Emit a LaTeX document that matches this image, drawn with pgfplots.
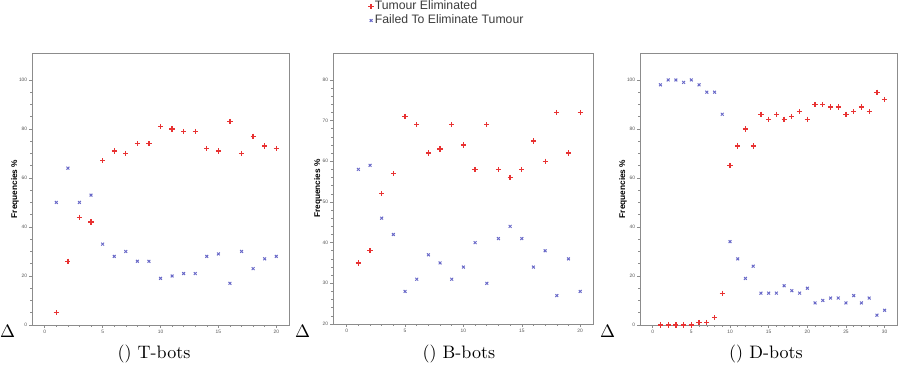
\documentclass[border=0pt]{standalone}
\usepackage{pgfplots}
\pgfplotsset{compat=1.18}
\usepackage{fontspec}
\newfontfamily\arial{Liberation Sans}
\definecolor{tred}{RGB}{232,50,50}
\definecolor{tblue}{RGB}{105,105,200}
\definecolor{axgray}{RGB}{140,140,140}
\definecolor{lblgray}{RGB}{85,85,85}
\definecolor{leggray}{RGB}{60,60,60}

\pgfplotsset{
  botstyle/.style={
    scale only axis, anchor=south west,
    axis line style={axgray, line width=0.5pt},
    tick style={axgray, line width=0.3pt},
    tick align=outside,
    xtick pos=left, ytick pos=left,
    major tick length=1.7pt, minor tick length=1pt,
    minor x tick num=4,
    ticklabel style={font=\arial\fontsize{2.7}{3}\selectfont, text=lblgray, inner sep=0.8pt},
    /pgf/number format/assume math mode=true,
    ylabel={Frequencies \%},
    ylabel style={font=\arial\bfseries\fontsize{4.6}{5}\selectfont, at={(axis description cs:0,0.5)}, anchor=center},
    legend image code/.code={\draw[mark repeat=2,mark phase=2,##1] plot coordinates {(0cm,0cm) (0.17cm,0cm) (0.34cm,0cm)};},
  },
  redpts/.style={only marks, mark=+, mark size=1.45pt, color=tred, mark options={draw=tred, line width=0.7pt}},
  bluepts/.style={only marks, mark=x, mark size=1.1pt, color=tblue, mark options={draw=tblue, line width=0.55pt}},
}

\pgfplotstableread{
x te fe
1 5 50
2 26 64
3 44 50
4 42 53
5 67 33
6 71 28
7 70 30
8 74 26
9 74 26
10 81 19
11 80 20
12 79 21
13 79 21
14 72 28
15 71 29
16 83 17
17 70 30
18 77 23
19 73 27
20 72 28
}\tbots

\pgfplotstableread{
x te fe
1 35 58
2 38 59
3 52 46
4 57 42
5 71 28
6 69 31
7 62 37
8 63 35
9 69 31
10 64 34
11 58 40
12 69 30
13 58 41
14 56 44
15 58 41
16 65 34
17 60 38
18 72 27
19 62 36
20 72 28
}\bbots

\pgfplotstableread{
x te fe
1 0 98
2 0 100
3 0 100
4 0 99
5 0 100
6 1 98
7 1 95
8 3 95
9 13 86
10 65 34
11 73 27
12 80 19
13 73 24
14 86 13
15 84 13
16 86 13
17 84 16
18 85 14
19 87 13
20 84 15
21 90 9
22 90 10
23 89 11
24 89 11
25 86 9
26 87 12
27 89 9
28 87 11
29 95 4
30 92 6
}\dbots

\begin{document}
\begin{tikzpicture}
\useasboundingbox (0,0) rectangle (500.06pt,204.24pt);

% Panel 1: T-bots
\begin{axis}[botstyle,
  at={(17.76pt,23.87pt)}, width=142.64pt, height=150.96pt,
  xmin=-1.1, xmax=21.1, ymin=0, ymax=111,
  xtick={0,5,...,20}, ytick={0,20,...,100}, minor y tick num=3,
  ylabel style={yshift=9.4pt},
]
\addplot[redpts] table[x=x,y=te] {\tbots};
\addplot[bluepts] table[x=x,y=fe] {\tbots};
\end{axis}

% Panel 2: B-bots
\begin{axis}[botstyle,
  at={(184.82pt,24.42pt)}, width=144.3pt, height=150.4pt,
  xmin=-1.17, xmax=21.1, ymin=20, ymax=86.6,
  xtick={0,5,...,20}, ytick={20,30,...,80}, minor y tick num=4,
  ylabel style={yshift=8.3pt},
  legend style={at={(axis description cs:0.135,1.199)}, anchor=north west,
    draw=none, fill=none, inner sep=0pt, row sep=0pt,
    font=\arial\fontsize{6.8}{7.8}\selectfont, text=leggray,
    nodes={inner sep=0.6pt, text height=5.2pt, text depth=1.4pt}},
  legend cell align=left,
]
\addplot[redpts] table[x=x,y=te] {\bbots};
\addlegendentry{Tumour Eliminated}
\addplot[bluepts] table[x=x,y=fe] {\bbots};
\addlegendentry{Failed To Eliminate Tumour}
\end{axis}

% Panel 3: D-bots
\begin{axis}[botstyle,
  at={(355.2pt,23.87pt)}, width=142.64pt, height=150.96pt,
  xmin=-1.64, xmax=31.6, ymin=0, ymax=111,
  xtick={0,5,...,30}, ytick={0,20,...,100}, minor y tick num=3,
  ylabel style={yshift=9.4pt},
]
\addplot[redpts] table[x=x,y=te] {\dbots};
\addplot[bluepts] table[x=x,y=fe] {\dbots};
\end{axis}

% Delta marks and captions
\node[anchor=base, inner sep=0pt] at (4.3pt,17.2pt) {$\Delta$};
\node[anchor=base, inner sep=0pt] at (167.9pt,17.2pt) {$\Delta$};
\node[anchor=base, inner sep=0pt] at (337.2pt,17.2pt) {$\Delta$};

\node[anchor=base, inner sep=0pt] at (85.5pt,5pt) {() T-bots};
\node[anchor=base, inner sep=0pt] at (254.7pt,5pt) {() B-bots};
\node[anchor=base, inner sep=0pt] at (425.1pt,5pt) {() D-bots};
\end{tikzpicture}
\end{document}
